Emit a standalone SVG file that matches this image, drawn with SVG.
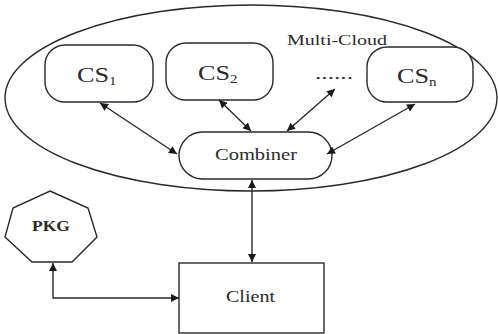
<svg xmlns="http://www.w3.org/2000/svg" width="498" height="334" viewBox="0 0 498 334">
<style>
.sh{fill:#fff;stroke:#2a2a2a;stroke-width:1.4}
.cl{fill:none;stroke:#2a2a2a;stroke-width:1.4}
.ln{fill:none;stroke:#2a2a2a;stroke-width:1.4;marker-start:url(#ah);marker-end:url(#ah)}
.t{font-family:"Liberation Serif","Times New Roman",serif;fill:#2a2a2a}
</style>
<defs>
<marker id="ah" viewBox="0 0 10 10" refX="10" refY="5" markerWidth="9" markerHeight="8" markerUnits="userSpaceOnUse" orient="auto-start-reverse">
<path d="M0,0 L10,5 L0,10 z" fill="#1a1a1a"/>
</marker>
</defs>
<rect width="498" height="334" fill="#fff"/>
<g id="multicloud">
<ellipse class="cl" cx="251" cy="98" rx="246" ry="93"/>
<text class="t" x="287" y="45" font-size="15" textLength="100" lengthAdjust="spacingAndGlyphs">Multi-Cloud</text>
</g>
<g id="cs1">
<rect class="sh" x="45" y="45" width="108" height="57" rx="20"/>
<text class="t" transform="translate(77,82) scale(1.25,1)" font-size="21">CS<tspan font-size="12" dy="3">1</tspan></text>
</g>
<g id="cs2">
<rect class="sh" x="166" y="43" width="107" height="57" rx="20"/>
<text class="t" transform="translate(198,80) scale(1.25,1)" font-size="21">CS<tspan font-size="12" dy="3">2</tspan></text>
</g>
<g id="dots">
<text class="t" x="315" y="79" font-size="16" textLength="38" lengthAdjust="spacingAndGlyphs">......</text>
</g>
<g id="csn">
<rect class="sh" x="367" y="47" width="106" height="55" rx="20"/>
<text class="t" transform="translate(397,83) scale(1.25,1)" font-size="21">CS<tspan font-size="12" dy="3">n</tspan></text>
</g>
<g id="combiner">
<rect class="sh" x="179" y="132" width="153" height="47" rx="23.5"/>
<text class="t" x="215" y="160" font-size="17" textLength="82" lengthAdjust="spacingAndGlyphs">Combiner</text>
</g>
<g id="pkg">
<polygon class="sh" points="50,191 88,208 97,237 72,262 32,262 5,237 13,208"/>
<text class="t" x="32" y="231" font-size="15" font-weight="bold" textLength="38" lengthAdjust="spacingAndGlyphs">PKG</text>
</g>
<g id="client">
<rect class="sh" x="179" y="263" width="145" height="70"/>
<text class="t" x="226" y="302" font-size="17" textLength="49" lengthAdjust="spacingAndGlyphs">Client</text>
</g>
<g id="connectors">
<line class="ln" x1="100" y1="103" x2="177" y2="154"/>
<line class="ln" x1="219" y1="100" x2="251" y2="131"/>
<line class="ln" x1="335" y1="89" x2="287" y2="131"/>
<line class="ln" x1="415" y1="104" x2="327" y2="154"/>
<line class="ln" x1="252" y1="180" x2="252" y2="262"/>
<polyline class="ln" points="53,263 53,298 179,298"/>
</g>
</svg>
